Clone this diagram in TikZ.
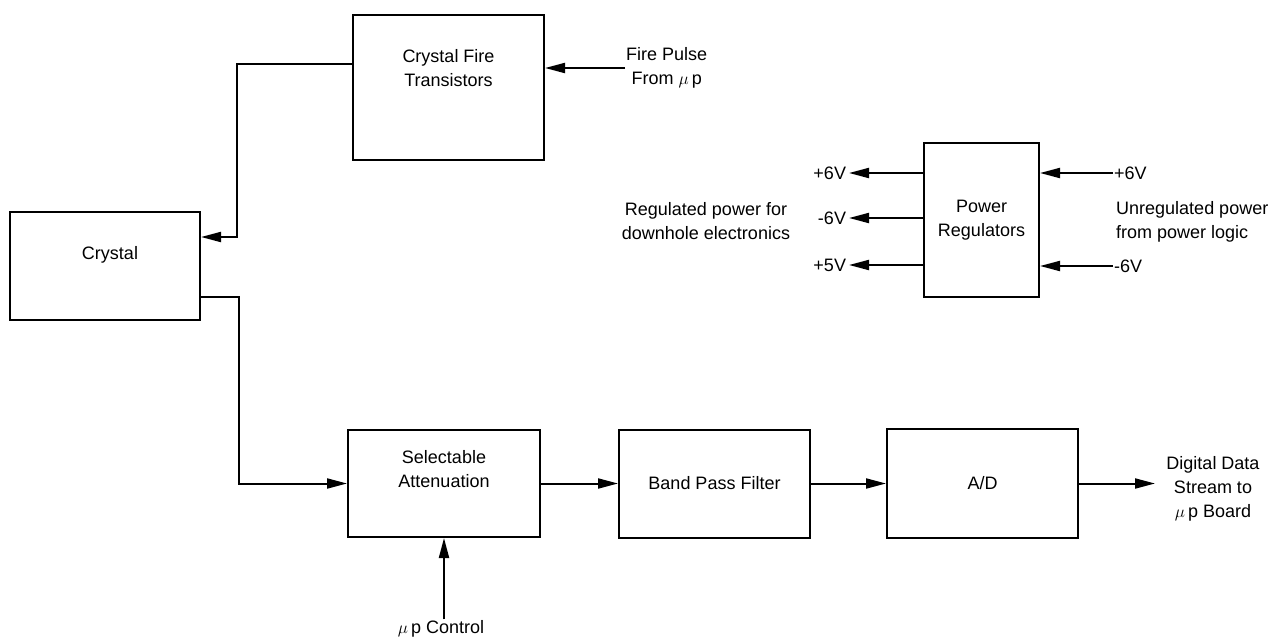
\documentclass[tikz,border=0pt]{standalone}
\usepackage{fontspec}
\setmainfont{Liberation Sans}
\usetikzlibrary{arrows.meta,positioning}

\begin{document}
\begin{tikzpicture}[x=1pt,y=-1pt,node distance=77pt,font=\fontsize{18}{24}\selectfont,
  blk/.style={draw,line width=2pt,minimum width=191pt,minimum height=108pt,align=center,inner sep=0pt},
  txt/.style={align=center,inner sep=1pt},
  a/.style={-{Triangle[length=20pt,width=10pt]},line width=2pt}]
\useasboundingbox (0,0) rectangle (1288,640);
% blocks
\node[blk,minimum height=145pt] (cft) at (448.5,87.5) {};
\node[txt] (cftt) at (448.5,68) {Crystal Fire\\Transistors};
\node[blk,minimum width=190pt] (crys) at (105,266) {};
\node[txt] (cryst) at (110,255) {Crystal};
\node[blk,minimum width=192pt,minimum height=107pt] (sel) at (444,483.5) {};
\node[txt] (selt) at (444,469) {Selectable\\Attenuation};
\node[blk,right=of sel] (bpf) {Band Pass Filter};
\node[blk,right=75pt of bpf,minimum height=109pt] (ad) {A/D};
\node[blk,minimum width=115pt,minimum height=154pt] (pwr) at (981.5,220) {Power\\Regulators};
% texts
\node[txt,anchor=west] (fp) at (625,68) {Fire Pulse\\From $\mu$\,p};
\node[txt] (ctl) at (441,629) {$\mu$\,p Control};
\node[txt] (dds) at (1213,489) {Digital Data\\Stream to\\$\mu$\,p Board};
\node[txt] (reg) at (706,221) {Regulated power for\\downhole electronics};
\node[txt,anchor=west,align=left] (unreg) at (1115,222) {Unregulated power\\from power logic};
% signal path
\draw[a] (fp.west) -- (fp.west -| cft.east);
\draw[a] ([yshift=24pt]cft.west) -- ++(-115,0) |- ([yshift=29pt]crys.east);
\draw[a] ([yshift=-31pt]crys.east) -- ++(38,0) |- (sel.west);
\draw[a] (ctl.north -| sel) -- (sel.south);
\draw[a] (sel.east) -- (sel.east -| bpf.west);
\draw[a] (bpf.east) -- (bpf.east -| ad.west);
\draw[a] (ad.east) -- ++(76,0);
% power
\foreach \dy/\v [count=\i] in {47/+6V,2/-6V,-45/+5V}
  \draw[a] ([yshift=\dy pt]pwr.west) -- ++(-74,0) node[left,inner sep=2pt] (vo\i) {\v};
\foreach \dy/\v [count=\i] in {47/+6V,-46/-6V} {
  \node[right,inner sep=1pt] (vi\i) at ([xshift=73pt,yshift=\dy pt]pwr.east) {\v};
  \draw[a] (vi\i.west) -- ([yshift=\dy pt]pwr.east);
}
\end{tikzpicture}
\end{document}
